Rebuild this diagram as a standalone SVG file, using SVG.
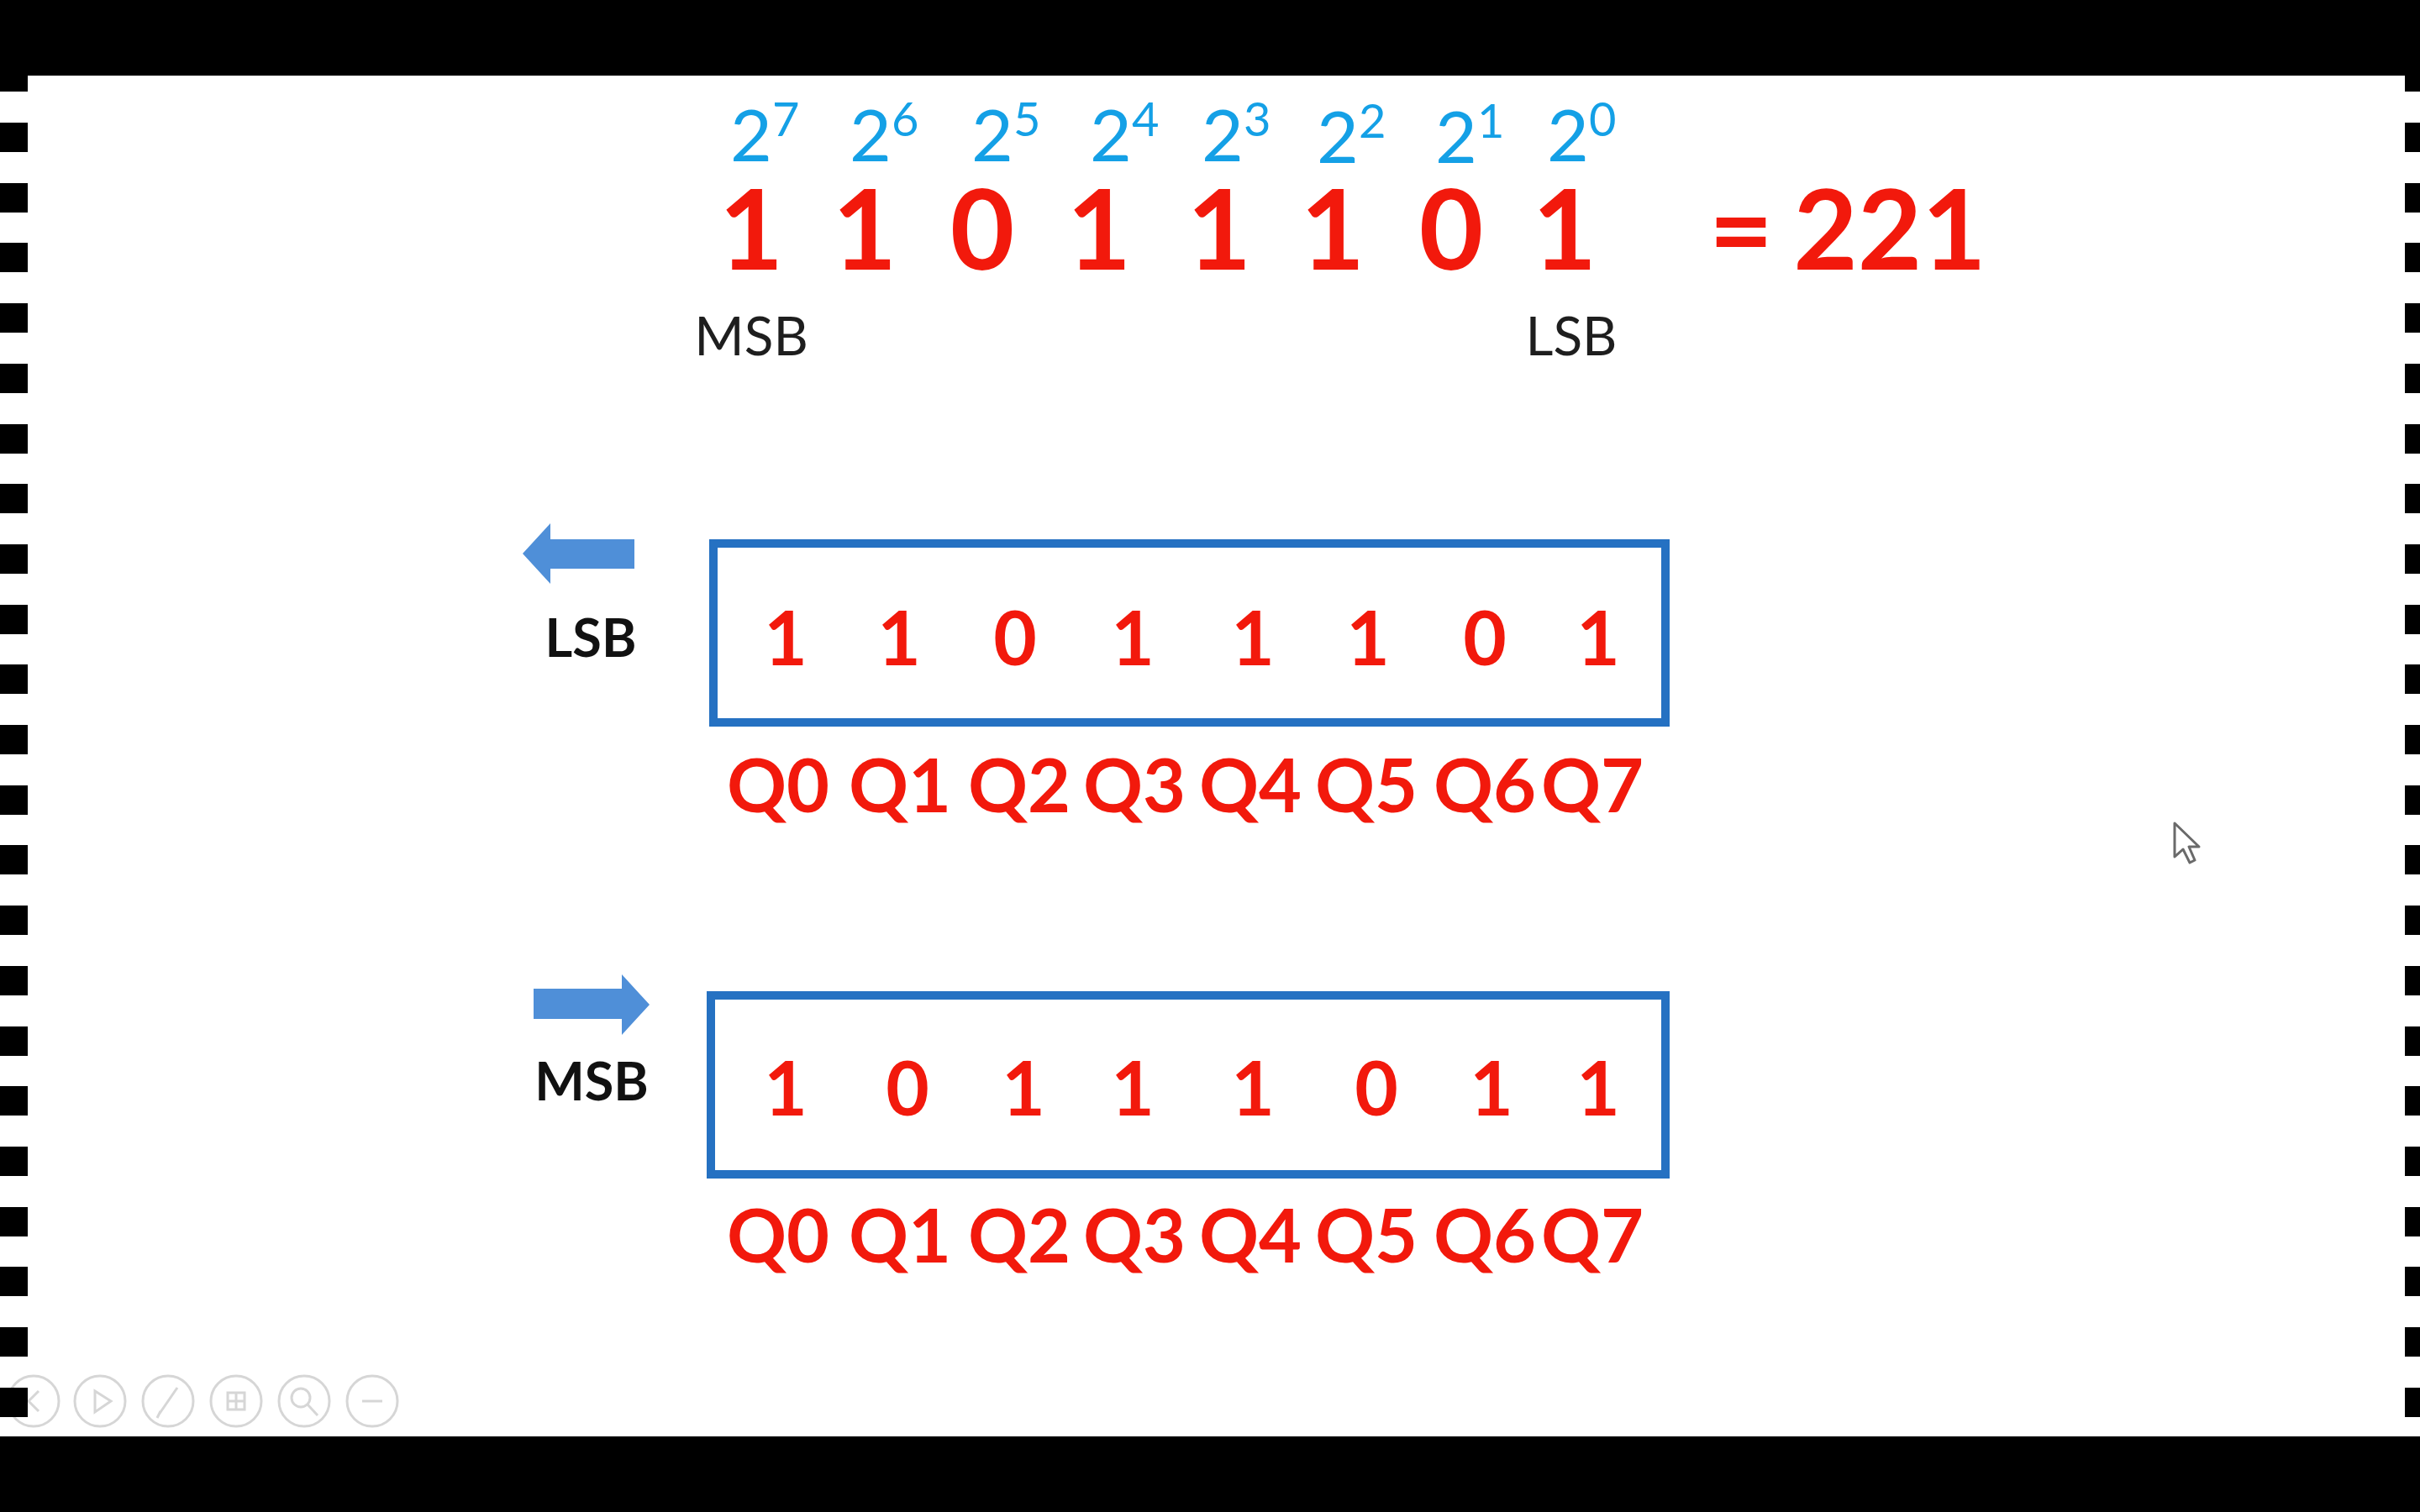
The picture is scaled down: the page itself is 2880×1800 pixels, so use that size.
<svg xmlns="http://www.w3.org/2000/svg" width="2880" height="1800" viewBox="0 0 2880 1800">
<style>
.exp{font-family:Lato,"Open Sans","Liberation Sans",sans-serif;font-size:86px;fill:#14A0E6}
.sup{font-size:56px}
.big{font-family:Lato,"Open Sans","Liberation Sans",sans-serif;font-weight:bold;font-size:132px;fill:#F2190C;text-anchor:middle}
.lab{font-family:Lato,"Open Sans","Liberation Sans",sans-serif;font-size:64px;fill:#1e1e1e;text-anchor:middle}
.blab{font-family:Lato,"Open Sans","Liberation Sans",sans-serif;font-weight:bold;font-size:63px;fill:#111;text-anchor:middle}
.bit{font-family:Lato,"Open Sans","Liberation Sans",sans-serif;font-weight:bold;font-size:89px;fill:#F2190C;text-anchor:middle}
.q{font-family:Lato,"Open Sans","Liberation Sans",sans-serif;font-weight:bold;font-size:88px;fill:#F2190C;text-anchor:middle}
.box{fill:none;stroke:#2571C2;stroke-width:10}
.arrow{fill:#4F8FD8}
.strip{fill:#000}
.icon{fill:none;stroke:#d6d6d6;stroke-width:3}
</style>
<defs>
<g id="stripes">
<rect class="strip" x="0" y="74" width="33" height="35"/>
<rect class="strip" x="0" y="146" width="33" height="35"/>
<rect class="strip" x="0" y="218" width="33" height="35"/>
<rect class="strip" x="0" y="289" width="33" height="35"/>
<rect class="strip" x="0" y="361" width="33" height="35"/>
<rect class="strip" x="0" y="433" width="33" height="35"/>
<rect class="strip" x="0" y="505" width="33" height="35"/>
<rect class="strip" x="0" y="576" width="33" height="35"/>
<rect class="strip" x="0" y="648" width="33" height="35"/>
<rect class="strip" x="0" y="720" width="33" height="35"/>
<rect class="strip" x="0" y="791" width="33" height="35"/>
<rect class="strip" x="0" y="863" width="33" height="35"/>
<rect class="strip" x="0" y="935" width="33" height="35"/>
<rect class="strip" x="0" y="1006" width="33" height="35"/>
<rect class="strip" x="0" y="1078" width="33" height="35"/>
<rect class="strip" x="0" y="1150" width="33" height="35"/>
<rect class="strip" x="0" y="1222" width="33" height="35"/>
<rect class="strip" x="0" y="1293" width="33" height="35"/>
<rect class="strip" x="0" y="1365" width="33" height="35"/>
<rect class="strip" x="0" y="1437" width="33" height="35"/>
<rect class="strip" x="0" y="1508" width="33" height="35"/>
<rect class="strip" x="0" y="1580" width="33" height="35"/>
<rect class="strip" x="0" y="1652" width="33" height="35"/>
</g>
</defs>

<g id="background">
<rect x="0" y="0" width="2880" height="1800" fill="#000"/>
<rect x="0" y="90" width="2880" height="1620" fill="#fff"/>
</g>

<g id="toolbar">
<circle class="icon" cx="40" cy="1668" r="30"/>
<path class="icon" d="M46 1656 L34 1668 L46 1680"/>
<circle class="icon" cx="119" cy="1668" r="30"/>
<path class="icon" d="M113 1656 L113 1681 L132 1668 Z"/>
<circle class="icon" cx="200" cy="1668" r="30"/>
<path class="icon" d="M189 1684 L211 1652 M187 1688 L191 1680"/>
<circle class="icon" cx="281" cy="1668" r="30"/>
<path class="icon" d="M271 1658 h20 v20 h-20 Z M271 1668 h20 M281 1658 v20"/>
<circle class="icon" cx="362" cy="1668" r="30"/>
<circle class="icon" cx="358" cy="1664" r="11"/>
<path class="icon" d="M366 1672 L378 1685"/>
<circle class="icon" cx="443" cy="1668" r="30"/>
<path class="icon" d="M431 1668 H455" stroke-width="6"/>
</g>

<use href="#stripes"/>
<use href="#stripes" transform="translate(2862 0) scale(0.55 1)"/>

<g id="powers">
<text class="exp" x="869" y="192">2<tspan class="sup" dy="-30">7</tspan></text>
<text class="exp" x="1011" y="192">2<tspan class="sup" dy="-30">6</tspan></text>
<text class="exp" x="1156" y="192">2<tspan class="sup" dy="-30">5</tspan></text>
<text class="exp" x="1297" y="192">2<tspan class="sup" dy="-30">4</tspan></text>
<text class="exp" x="1430" y="192">2<tspan class="sup" dy="-30">3</tspan></text>
<text class="exp" x="1567" y="194">2<tspan class="sup" dy="-30">2</tspan></text>
<text class="exp" x="1708" y="194">2<tspan class="sup" dy="-30">1</tspan></text>
<text class="exp" x="1841" y="192">2<tspan class="sup" dy="-30">0</tspan></text>
</g>

<g id="binary-number">
<text class="big" x="894" y="321">1</text>
<text class="big" x="1029" y="321">1</text>
<text class="big" x="1169" y="321">0</text>
<text class="big" x="1308" y="321">1</text>
<text class="big" x="1451" y="321">1</text>
<text class="big" x="1586" y="321">1</text>
<text class="big" x="1727" y="321">0</text>
<text class="big" x="1862" y="321">1</text>
<text class="big" x="2072" y="321">=</text>
<text class="big" x="2249" y="321">221</text>
<text class="lab" x="894" y="423">MSB</text>
<text class="lab" x="1870" y="423">LSB</text>
</g>

<g id="connectors">
<polygon class="arrow" points="622,659 655,623 655,642 755,642 755,677 655,677 655,695"/>
<polygon class="arrow" points="635,1177 740,1177 740,1160 773,1196 740,1232 740,1213 635,1213"/>
</g>

<g id="register-lsb">
<text class="blab" x="703" y="782">LSB</text>
<rect class="box" x="849" y="647" width="1133" height="213"/>
<text class="bit" x="935" y="792">1</text>
<text class="bit" x="1070" y="792">1</text>
<text class="bit" x="1208" y="792">0</text>
<text class="bit" x="1348" y="792">1</text>
<text class="bit" x="1491" y="792">1</text>
<text class="bit" x="1628" y="792">1</text>
<text class="bit" x="1767" y="792">0</text>
<text class="bit" x="1902" y="792">1</text>
<text class="q" x="926" y="967">Q0</text>
<text class="q" x="1071" y="967">Q1</text>
<text class="q" x="1213" y="967">Q2</text>
<text class="q" x="1350" y="967">Q3</text>
<text class="q" x="1488" y="967">Q4</text>
<text class="q" x="1626" y="967">Q5</text>
<text class="q" x="1767" y="967">Q6</text>
<text class="q" x="1895" y="967">Q7</text>
</g>

<g id="register-msb">
<text class="blab" x="704" y="1310">MSB</text>
<rect class="box" x="846" y="1185" width="1136" height="213"/>
<text class="bit" x="935" y="1328">1</text>
<text class="bit" x="1080" y="1328">0</text>
<text class="bit" x="1218" y="1328">1</text>
<text class="bit" x="1348" y="1328">1</text>
<text class="bit" x="1491" y="1328">1</text>
<text class="bit" x="1638" y="1328">0</text>
<text class="bit" x="1775" y="1328">1</text>
<text class="bit" x="1902" y="1328">1</text>
<text class="q" x="926" y="1503">Q0</text>
<text class="q" x="1071" y="1503">Q1</text>
<text class="q" x="1213" y="1503">Q2</text>
<text class="q" x="1350" y="1503">Q3</text>
<text class="q" x="1488" y="1503">Q4</text>
<text class="q" x="1626" y="1503">Q5</text>
<text class="q" x="1767" y="1503">Q6</text>
<text class="q" x="1895" y="1503">Q7</text>
</g>

<g id="cursor">
<polygon points="2588,980 2588,1020 2598,1011 2606,1027 2612,1024 2605,1008 2617,1008" fill="#fff" stroke="#6a6a6a" stroke-width="3" stroke-linejoin="round"/>
</g>
</svg>
